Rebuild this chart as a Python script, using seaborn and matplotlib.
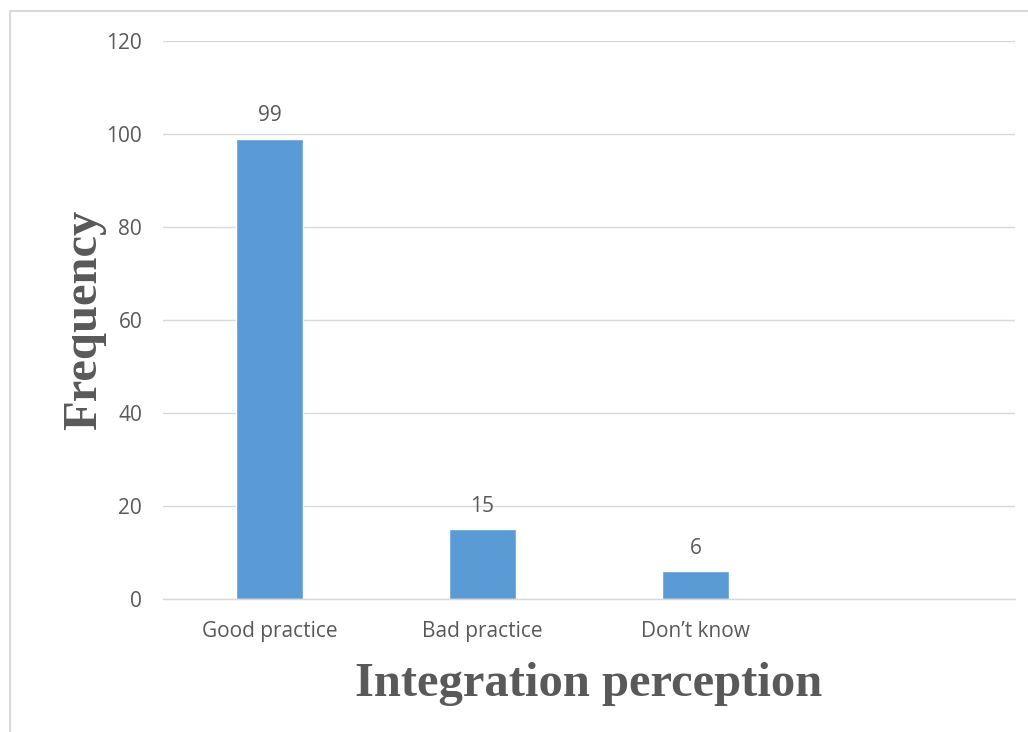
import matplotlib
matplotlib.use("Agg")
import matplotlib.pyplot as plt
import seaborn as sns
import pandas as pd
from matplotlib.patches import Rectangle

categories = ["Good practice", "Bad practice", "Don\u2019t know"]
frequencies = [99, 15, 6]
y_ticks = [0, 20, 40, 60, 80, 100, 120]

sns.set_theme(style="white")
plt.rcParams["font.family"] = ["Open Sans", "DejaVu Sans"]

df = pd.DataFrame({"category": categories, "frequency": frequencies})

fig = plt.figure(figsize=(10.28, 7.32), dpi=100)
ax = fig.add_axes([163 / 1028, 1 - 599 / 732, (1015 - 163) / 1028, (599 - 41) / 732])

sns.barplot(data=df, x="category", y="frequency", color="#5b9bd5",
            saturation=1, width=0.315, ax=ax)

ax.set_xlim(-0.5, 3.5)
ax.set_ylim(0, 120)
ax.set_yticks(y_ticks)
ax.grid(axis="y", color="#d9d9d9", linewidth=1)
ax.set_axisbelow(True)
for side in ["top", "right", "left"]:
    ax.spines[side].set_visible(False)
ax.spines["bottom"].set_color("#d9d9d9")
ax.spines["bottom"].set_linewidth(1)

ax.tick_params(axis="both", length=0, labelsize=15, labelcolor="#595959")
ax.tick_params(axis="y", pad=15)
ax.tick_params(axis="x", pad=16)

for i, v in enumerate(frequencies):
    ax.annotate(str(v), (i, v), xytext=(0, 9), textcoords="offset points",
                ha="center", va="bottom", fontsize=15, color="#595959")

ax.set_xlabel("Integration perception", family="Liberation Serif",
              fontweight="bold", fontsize=35, color="#595959", labelpad=14)
ax.set_ylabel("Frequency", family="Liberation Serif",
              fontweight="bold", fontsize=35, color="#595959", labelpad=0)

# light frame around the chart area
fig.patches.append(Rectangle((9.5 / 1028, -0.1), 1.2, 1.1 - 10.5 / 732,
                             transform=fig.transFigure, fill=False,
                             edgecolor="#d9d9d9", linewidth=1.5))

fig.savefig("out.png", dpi=100)
